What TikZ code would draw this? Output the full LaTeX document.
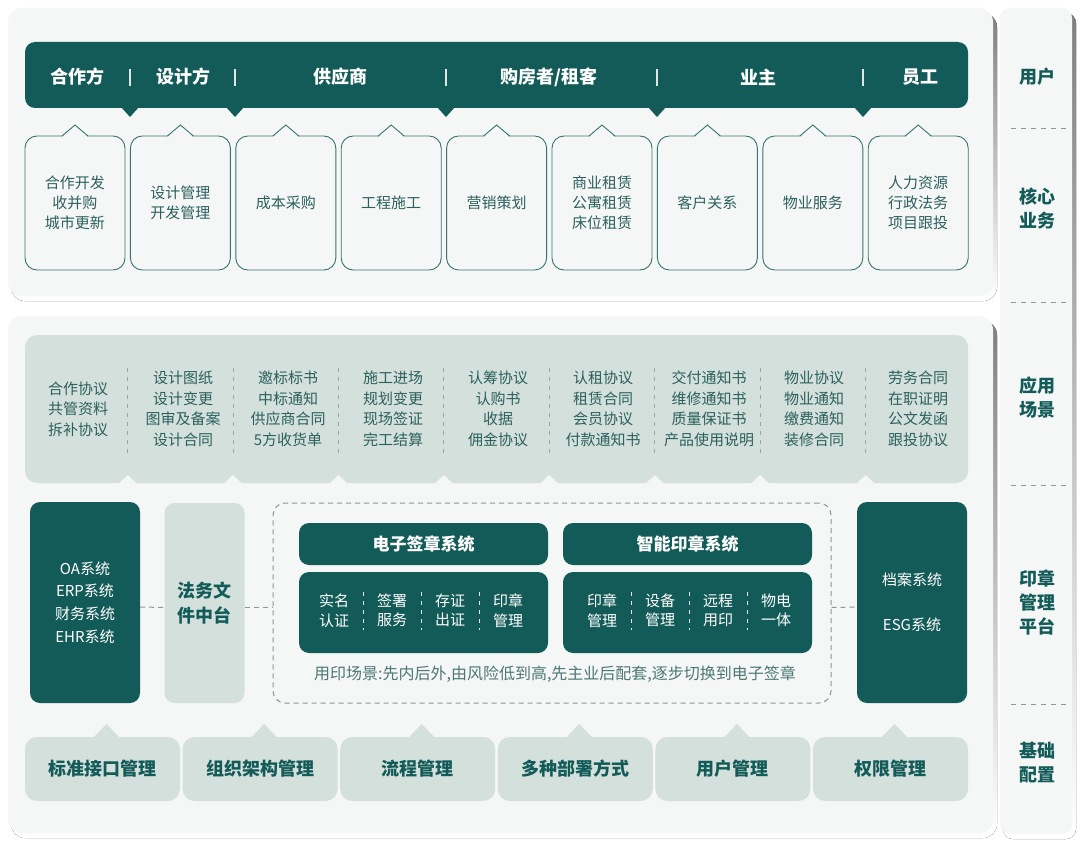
\documentclass[tikz,border=0pt]{standalone}
\usepackage{fontspec}
\setmainfont{Noto Sans CJK SC}

\definecolor{deep}{HTML}{135B58}
\definecolor{mint}{HTML}{D3E0DC}
\definecolor{paper}{HTML}{F5F6F6}
\definecolor{shade}{HTML}{DAE1DF}
\definecolor{ink}{HTML}{2C605D}
\definecolor{dashgray}{HTML}{8E9896}

\begin{document}
\begin{tikzpicture}[x=1pt,y=-1pt,
    card/.style={draw=deep!85,line width=0.9pt,fill=paper,rounded corners=12pt,minimum width=100pt,minimum height=134pt,inner sep=0pt,text=ink,align=center,font=\fontsize{15}{20}\selectfont},
    scen/.style={text=ink,align=center,font=\fontsize{15}{20.5}\selectfont},
    who/.style={text=white,font=\bfseries\fontsize{18}{22}\selectfont},
    sidelabel/.style={text=deep,align=center,font=\bfseries\fontsize{18}{24}\selectfont},
    darkbox/.style={fill=deep,rounded corners=10pt,inner sep=0pt,text=white,align=center},
    basebox/.style={fill=mint,rounded corners=12pt,minimum width=155pt,minimum height=64pt,inner sep=0pt,text=deep,font=\bfseries\fontsize{18}{22}\selectfont},
    item/.style={text=white,align=center,font=\fontsize{15}{19.5}\selectfont},
    link/.style={dashgray,line width=1pt,dash pattern=on 5pt off 4pt},
    splitline/.style={line width=1pt,dash pattern=on 4pt off 5pt}]
    \useasboundingbox[fill=white] (0,0) rectangle (1080,843);

    % panels
    \fill[shade,rounded corners=14pt] (11,13) rectangle (997,301);
    \fill[shade,rounded corners=14pt] (11,321) rectangle (997,838);
    \fill[shade,rounded corners=10pt] (1003,13) rectangle (1076,839);
    \fill[paper,rounded corners=14pt] (8,8) rectangle (993,296);
    \fill[paper,rounded corners=14pt] (8,316) rectangle (993,833);
    \fill[paper,rounded corners=10pt] (1000,8) rectangle (1072,834);

    % users bar
    \node[fill=deep,rounded corners=10pt,minimum width=943pt,minimum height=66pt] (bar) at (496.5,75) {};
    \foreach \x in {130,235,446,657,863}{
        \fill[deep] (\x-9,107) -- (\x,117) -- (\x+9,107) -- cycle;
        \draw[white!85!deep,line width=2.2pt] (\x,69) -- (\x,86);
    }
    \node[who] (u1) at (77,77) {合作方};
    \node[who] (u2) at (183,77) {设计方};
    \node[who] (u3) at (340,77) {供应商};
    \node[who] (u4) at (549,77) {购房者/租客};
    \node[who] (u5) at (758,77) {业主};
    \node[who] (u6) at (920,77) {员工};

    % core business
    \node[card] (c1) at (75,203) {合作开发\\收并购\\城市更新};
    \node[card] (c2) at (180.4,203) {设计管理\\开发管理};
    \node[card] (c3) at (285.8,203) {成本采购};
    \node[card] (c4) at (391.2,203) {工程施工};
    \node[card] (c5) at (496.6,203) {营销策划};
    \node[card] (c6) at (602,203) {商业租赁\\公寓租赁\\床位租赁};
    \node[card] (c7) at (707.4,203) {客户关系};
    \node[card] (c8) at (812.8,203) {物业服务};
    \node[card] (c9) at (918.2,203) {人力资源\\行政法务\\项目跟投};
    \foreach \x in {75,180.4,285.8,391.2,496.6,602,707.4,812.8,918.2}{
        \fill[paper] (\x-12.5,136.9) -- (\x,125) -- (\x+12.5,136.9) -- cycle;
        \draw[deep!85,line width=0.9pt] (\x-13,136) -- (\x,125) -- (\x+13,136);
    }

    % scenarios
    \node[fill=mint,rounded corners=12pt,minimum width=943pt,minimum height=148pt] (scene) at (496.5,409) {};
    \foreach \x in {127.7,233.1,338.5,443.9,549.3,654.7,760.1,865.5}{
        \draw[dashgray!80!mint,splitline] (\x,368) -- (\x,455);
        \fill[paper] (\x-9,483.5) -- (\x,475) -- (\x+9,483.5) -- cycle;
    }
    \node[scen] (s1) at (78,409) {合作协议\\共管资料\\拆补协议};
    \node[scen] (s2) at (183,409) {设计图纸\\设计变更\\图审及备案\\设计合同};
    \node[scen] (s3) at (288,409) {邀标标书\\中标通知\\供应商合同\\5方收货单};
    \node[scen] (s4) at (393,409) {施工进场\\规划变更\\现场签证\\完工结算};
    \node[scen] (s5) at (498,409) {认筹协议\\认购书\\收据\\佣金协议};
    \node[scen] (s6) at (603,409) {认租协议\\租赁合同\\会员协议\\付款通知书};
    \node[scen] (s7) at (709,409) {交付通知书\\维修通知书\\质量保证书\\产品使用说明};
    \node[scen] (s8) at (814,409) {物业协议\\物业通知\\缴费通知\\装修合同};
    \node[scen] (s9) at (918,409) {劳务合同\\在职证明\\公文发函\\跟投协议};

    % seal platform
    \node[darkbox,minimum width=110pt,minimum height=201pt,font=\fontsize{15}{22.7}\selectfont] (oa) at (85,602.5) {OA系统\\ERP系统\\财务系统\\EHR系统};
    \node[fill=mint,rounded corners=10pt,minimum width=80pt,minimum height=200pt,inner sep=0pt,text=deep,align=center,font=\bfseries\fontsize{18}{25}\selectfont] (legal) at (204.5,603) {法务文\\件中台};
    \node[draw=dashgray,link,rounded corners=12pt,minimum width=558pt,minimum height=200pt] (frame) at (552,603) {};
    \node[darkbox,minimum width=110pt,minimum height=201pt,font=\fontsize{15}{45}\selectfont] (arch) at (912,602.5) {档案系统\\ESG系统};
    \draw[link] ([yshift=-4.5pt]oa.east) -- ([yshift=-4.5pt]legal.west);
    \draw[link] ([yshift=-4pt]legal.west -| legal.east) -- ([yshift=-4pt]frame.west);
    \draw[link] ([yshift=-4.5pt]frame.east) -- ([yshift=-4.5pt]arch.west);

    \node[darkbox,minimum width=249pt,minimum height=42pt,font=\bfseries\fontsize{17}{20}\selectfont] (esign) at (423.5,544) {电子签章系统};
    \node[darkbox,minimum width=249pt,minimum height=42pt,font=\bfseries\fontsize{17}{20}\selectfont] (smart) at (687.5,544) {智能印章系统};
    \node[darkbox,minimum width=249pt,minimum height=81pt] (esignbody) at (423.5,612.5) {};
    \node[darkbox,minimum width=249pt,minimum height=81pt] (smartbody) at (687.5,612.5) {};
    \node[item] (e1) at (334,610.5) {实名\\认证};
    \node[item] (e2) at (392,610.5) {签署\\服务};
    \node[item] (e3) at (450,610.5) {存证\\出证};
    \node[item] (e4) at (508,610.5) {印章\\管理};
    \node[item] (m1) at (602,610.5) {印章\\管理};
    \node[item] (m2) at (660,610.5) {设备\\管理};
    \node[item] (m3) at (718,610.5) {远程\\用印};
    \node[item] (m4) at (776,610.5) {物电\\一体};
    \foreach \x in {363,421,479,631,689,747}{
        \draw[white!85!deep,splitline] (\x,592) -- (\x,630);
    }
    \node[text=ink!85,font=\fontsize{16}{18}\selectfont] (note) at (555,674) {用印场景:先内后外,由风险低到高,先主业后配套,逐步切换到电子签章};

    % base configuration
    \node[basebox] (b1) at (102.5,769) {标准接口管理};
    \node[basebox] (b2) at (260.1,769) {组织架构管理};
    \node[basebox] (b3) at (417.7,769) {流程管理};
    \node[basebox] (b4) at (575.3,769) {多种部署方式};
    \node[basebox] (b5) at (732.9,769) {用户管理};
    \node[basebox] (b6) at (890.5,769) {权限管理};
    \foreach \x in {106.5,264.1,421.7,579.3,736.9,894.5}{
        \fill[mint] (\x-13,737.5) -- (\x,724) -- (\x+13,737.5) -- cycle;
    }

    % side column
    \node[sidelabel] (r1) at (1037,77) {用户};
    \node[sidelabel] (r2) at (1037,209) {核心\\业务};
    \node[sidelabel] (r3) at (1037,398) {应用\\场景};
    \node[sidelabel] (r4) at (1037,603) {印章\\管理\\平台};
    \node[sidelabel] (r5) at (1037,763) {基础\\配置};
    \foreach \y in {128,302,485,704}{
        \draw[dashgray,line width=1pt,dash pattern=on 5pt off 5pt] (1011,\y) -- (1066,\y);
    }
\end{tikzpicture}
\end{document}
